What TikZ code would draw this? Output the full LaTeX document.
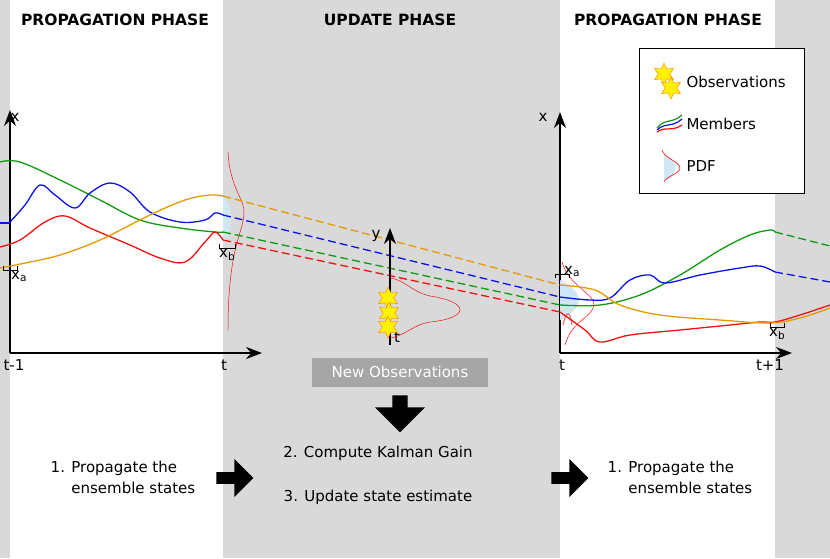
\documentclass[tikz,border=0pt]{standalone}
\usepackage{fontspec}
\setmainfont{DejaVu Sans}
\usetikzlibrary{shapes.geometric,shapes.arrows,arrows.meta}
\definecolor{bandgray}{HTML}{D9D9D9}
\definecolor{boxgray}{HTML}{A6A6A6}
\definecolor{cgreen}{HTML}{109A10}
\definecolor{cblue}{HTML}{0A14E6}
\definecolor{corange}{HTML}{E69A00}
\definecolor{cred}{HTML}{F01010}
\definecolor{pdfblue}{HTML}{CFE6F5}
\tikzset{
  phase/.style={font=\bfseries\fontsize{15.5}{18}\selectfont},
  txt/.style={font=\fontsize{15}{21}\selectfont},
  axis/.style={-{Stealth[length=16pt,width=12pt]}, line width=1.4pt},
  dcurve/.style={line width=1.3pt, dashed, dash pattern=on 8pt off 4pt},
  blockarrow/.style={single arrow, fill=black, minimum height=37pt, minimum width=38pt, single arrow head extend=5pt, inner sep=2pt},
  obsstar/.style={star, star points=6, star point ratio=1.9, fill=yellow, draw=orange, minimum size=22pt, inner sep=0pt},
}
\begin{document}
\begin{tikzpicture}[x=1pt,y=-1pt]
\useasboundingbox (0,0) rectangle (830,558);
% background bands
\fill[bandgray] (0,0) rectangle (10,558);
\fill[bandgray] (223,0) rectangle (560,558);
\fill[bandgray] (775,0) rectangle (830,558);

\node[phase] (p1) at (115,20) {PROPAGATION PHASE};
\node[phase] (up) at (390,20) {UPDATE PHASE};
\node[phase] (p2) at (668,20) {PROPAGATION PHASE};

% legend
\node[draw=black, fill=white, line width=1pt, minimum width=165pt, minimum height=145pt] (legend) at (722,121) {};
\node[obsstar] (ls1) at (664,74) {};
\node[obsstar] (ls2) at (671,88) {};
\node[txt, anchor=west] (lobs) at (683,82) {Observations};
\draw[cgreen, line width=1.2pt] (657,128) .. controls (665,118) and (672,124) .. (682,115);
\draw[cblue, line width=1.2pt] (657,130) .. controls (665,122) and (672,128) .. (682,119);
\draw[cred, line width=1.2pt] (657,132) .. controls (665,126) and (672,132) .. (682,125);
\node[txt, anchor=west] (lmem) at (683,124) {Members};
\fill[pdfblue] (664,154) .. controls (676,160) and (680,170) .. (668,180) -- (664,180) -- cycle;
\draw[cred, line width=0.6pt] (662,150) .. controls (664,158) and (680,162) .. (680,168) .. controls (680,174) and (666,176) .. (664,182);
\node[txt, anchor=west] (lpdf) at (683,166) {PDF};

% axes
\coordinate (o1) at (10,353);
\coordinate (o2) at (560,353);
\draw[axis] (o1) -- (10,110) coordinate (y1);
\draw[axis] (o1) -- (262,353) coordinate (x1);
\draw[axis] (o2) -- (560,112) coordinate (y2);
\draw[axis] (o2) -- (792,353) coordinate (x2);
\node[txt] (lx1) at (15,117) {x};
\node[txt] (lx2) at (543,117) {x};
\node[txt] (ltm1) at (14,365) {t-1};
\node[txt] (lt1) at (224,365) {t};
\node[txt] (lt2) at (562,365) {t};
\node[txt] (lt3) at (770,365) {t+1};

% pdf at t
\fill[pdfblue] (223,195) .. controls (232,205) and (236,225) .. (223,245) -- cycle;
\draw[cred, line width=0.5pt] (228,152) .. controls (230,190) and (246,200) .. (244,215) .. controls (242,235) and (228,250) .. (228,330);
% pdf at right t
\fill[pdfblue] (560,280) .. controls (580,290) and (590,305) .. (560,320) -- cycle;
\draw[cred, line width=0.5pt] (562,262) .. controls (568,285) and (596,295) .. (594,305) .. controls (592,318) and (572,320) .. (565,345);
\draw[cred!60, line width=1.2pt] (563,325) .. controls (566,310) and (570,310) .. (572,325);

% members, left
\draw[cgreen, line width=1.3pt] plot[smooth, tension=0.6] coordinates {(0,162) (20,162) (60,180) (100,200) (140,220) (180,228) (215,232) (223,232)};
\draw[cblue, line width=1.3pt] (0,223) -- (10,223);
\draw[cblue, line width=1.3pt] plot[smooth, tension=0.6] coordinates {(10,222) (25,205) (40,185) (55,195) (75,208) (90,193) (110,183) (130,192) (150,212) (180,222) (205,220) (215,213) (223,215)};
\draw[cred, line width=1.3pt] plot[smooth, tension=0.6] coordinates {(0,247) (20,240) (45,222) (65,216) (90,228) (130,245) (160,258) (185,262) (205,242) (215,232) (223,240)};
\draw[corange, line width=1.3pt] plot[smooth, tension=0.6] coordinates {(0,268) (30,262) (60,255) (100,240) (150,215) (185,200) (210,195) (223,196)};
% dashed forecasts
\draw[dcurve, corange] (223,196) -- (560,285);
\draw[dcurve, cblue] (223,215) -- (560,297);
\draw[dcurve, cgreen] (223,232) -- (560,305);
\draw[dcurve, cred] (223,240) -- (560,312);
% members, right
\draw[cgreen, line width=1.3pt] plot[smooth, tension=0.6] coordinates {(560,305) (600,305) (640,295) (680,275) (720,250) (750,235) (770,230) (775,232)};
\draw[dcurve, cgreen] (775,232) -- (830,246);
\draw[cblue, line width=1.3pt] plot[smooth, tension=0.6] coordinates {(560,297) (590,300) (610,298) (630,280) (650,275) (665,283) (700,275) (740,268) (760,266) (775,272)};
\draw[dcurve, cblue] (775,272) -- (830,282);
\draw[cred, line width=1.3pt] plot[smooth, tension=0.6] coordinates {(560,312) (585,330) (600,342) (630,335) (680,330) (730,325) (760,322) (775,322) (800,315) (830,305)};
\draw[corange, line width=1.3pt] plot[smooth, tension=0.6] coordinates {(560,285) (595,290) (620,305) (660,315) (720,320) (770,323) (800,318) (830,308)};

% brackets
\draw[line width=0.8pt] (3,266) -- (3,270) -- (17,270) -- (17,266);
\node[txt, anchor=north west, inner sep=1pt] (xa1) at (10,270) {x\textsubscript{a}};
\draw[line width=0.8pt] (219,244) -- (219,248) -- (235,248) -- (235,244);
\node[txt, anchor=north west, inner sep=1pt] (xb1) at (218,248) {x\textsubscript{b}};
\draw[line width=0.8pt] (555,278) -- (555,274) -- (569,274) -- (569,278);
\node[txt, anchor=south west, inner sep=1pt] (xa2) at (563,278) {x\textsubscript{a}};
\draw[line width=0.8pt] (770,323) -- (770,327) -- (784,327) -- (784,323);
\node[txt, anchor=north west, inner sep=1pt] (xb2) at (768,327) {x\textsubscript{b}};

% observations
\coordinate (yo) at (390,345);
\draw[axis, line width=1.2pt] (yo) -- (390,228) coordinate (ytop);
\node[txt] (ly) at (376,236) {y};
\node[txt] (lto) at (397,337) {t};
\draw[cred, line width=0.5pt] (390,278) .. controls (405,280) and (412,292) .. (430,296) .. controls (470,302) and (470,318) .. (430,322) .. controls (412,325) and (405,336) .. (390,338);
\node[obsstar] (o1s) at (388,298) {};
\node[obsstar] (o2s) at (389,313) {};
\node[obsstar] (o3s) at (388,327) {};

% process
\node[fill=boxgray, minimum width=176pt, minimum height=29pt, txt, text=white] (newobs) at (400,372) {New Observations};
\node[blockarrow, rotate=-90, minimum width=50pt] (adown) at (400,410) {};
\node[blockarrow] (aleft) at (232,478) {};
\node[blockarrow] (aright) at (567,478) {};
\node[txt, align=left] (prop1) at (123,477) {1. Propagate the\\\phantom{1. }ensemble states};
\node[txt] (kal) at (378,453) {2. Compute Kalman Gain};
\node[txt] (upd) at (378,497) {3. Update state estimate};
\node[txt, align=left] (prop2) at (680,477) {1. Propagate the\\\phantom{1. }ensemble states};
\end{tikzpicture}
\end{document}
